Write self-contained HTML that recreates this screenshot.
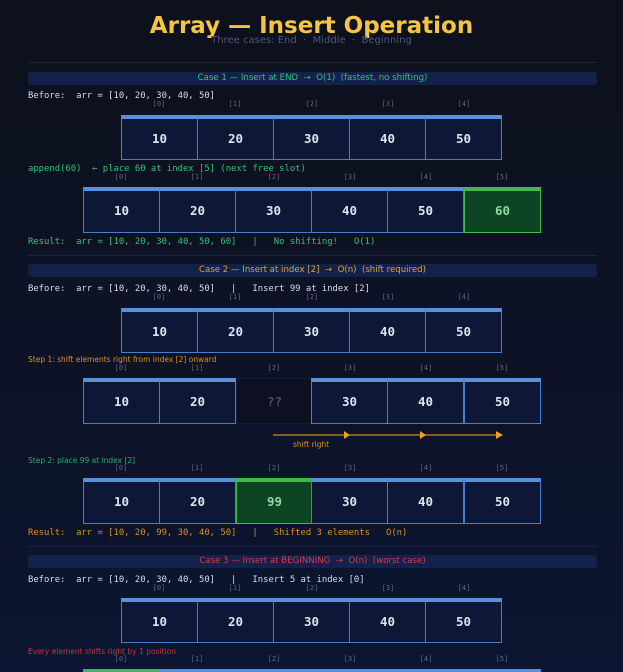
<!DOCTYPE html>
<html style="width:623px;height:672px;overflow:hidden"><head><meta charset="utf-8"><style>
*{margin:0;padding:0;box-sizing:border-box}
body{width:623px;height:672px;overflow:hidden;background:linear-gradient(180deg,#0d111c 0%,#0d1226 50%,#0c1632 100%);position:relative;font-family:"DejaVu Sans","Liberation Sans",sans-serif}
.a{position:absolute;white-space:pre}
.t{left:0;width:623px;text-align:center}
.m{font-family:"DejaVu Sans Mono","Liberation Mono",monospace;font-size:8.9px;line-height:10px}
.s{font-size:7.5px;line-height:9px}
.hr{position:absolute;left:28px;width:569px;height:1px;background:#1a2446}
.bar{position:absolute;left:28px;width:569px;height:13px;background:#13224a;border-radius:3px;font-size:8.6px;line-height:13px;text-align:center;white-space:pre}
.c{position:absolute;width:77px;background:#0e1836;border:1.5px solid #4a7cc8;border-top:4px solid #5b8fd6;color:#dde3ee;font-family:"DejaVu Sans Mono",monospace;font-weight:bold;font-size:12.5px;text-align:center}
.g{background:#0d4424;border-color:#3fb950;color:#8fd8a0}
.e{position:absolute;width:77px;border:1px solid #161c30;background:#0c1020;color:#4a5068;font-family:"DejaVu Sans Mono",monospace;font-weight:bold;font-size:12.5px;text-align:center}
.i{position:absolute;width:40px;text-align:center;font-family:"DejaVu Sans Mono",monospace;font-size:7px;color:#5e6680}
.clip{position:absolute;left:0;top:0;width:623px;height:672px;overflow:hidden}
.bt{position:absolute;width:77px;height:3px;background:#5b8fd6}
</style></head><body><div class="clip">
<div class="a t" style="top:11px;font-size:23px;font-weight:bold;color:#f5c542;line-height:30px">Array — Insert Operation</div>
<div class="a t" style="top:35px;font-size:10px;color:#4f5878;line-height:12px">Three cases: End  ·  Middle  ·  Beginning</div>
<div class="hr" style="top:62px"></div>

<div class="bar" style="top:72px;color:#2ec27a">Case 1 — Insert at END  →  O(1)  (fastest, no shifting)</div>
<div class="a m" style="left:28px;top:91px;color:#d8dce8">Before:  arr = [10, 20, 30, 40, 50]</div>
<div class="i" style="left:139px;top:100px">[0]</div><div class="i" style="left:215px;top:100px">[1]</div><div class="i" style="left:292px;top:100px">[2]</div><div class="i" style="left:368px;top:100px">[3]</div><div class="i" style="left:444px;top:100px">[4]</div>
<div class="c" style="left:121px;top:115px;height:45px;line-height:39px">10</div><div class="c" style="left:197px;top:115px;height:45px;line-height:39px">20</div><div class="c" style="left:273px;top:115px;height:45px;line-height:39px">30</div><div class="c" style="left:349px;top:115px;height:45px;line-height:39px">40</div><div class="c" style="left:425px;top:115px;height:45px;line-height:39px">50</div>
<div class="a m" style="left:28px;top:164px;color:#2ec27a">append(60)  ← place 60 at index [5] (next free slot)</div>
<div class="i" style="left:101px;top:173px">[0]</div><div class="i" style="left:177px;top:173px">[1]</div><div class="i" style="left:254px;top:173px">[2]</div><div class="i" style="left:330px;top:173px">[3]</div><div class="i" style="left:406px;top:173px">[4]</div><div class="i" style="left:482px;top:173px">[5]</div>
<div class="c" style="left:83px;top:187px;height:46px;line-height:40px">10</div><div class="c" style="left:159px;top:187px;height:46px;line-height:40px">20</div><div class="c" style="left:235px;top:187px;height:46px;line-height:40px">30</div><div class="c" style="left:311px;top:187px;height:46px;line-height:40px">40</div><div class="c" style="left:387px;top:187px;height:46px;line-height:40px">50</div><div class="c g" style="left:464px;top:187px;height:46px;line-height:40px;width:77px">60</div>
<div class="a m" style="left:28px;top:237px;color:#2ec27a">Result:  arr = [10, 20, 30, 40, 50, 60]   |   No shifting!   O(1)</div>
<div class="hr" style="top:255px"></div>

<div class="bar" style="top:264px;color:#e6a030">Case 2 — Insert at index [2]  →  O(n)  (shift required)</div>
<div class="a m" style="left:28px;top:284px;color:#d8dce8">Before:  arr = [10, 20, 30, 40, 50]   |   Insert 99 at index [2]</div>
<div class="i" style="left:139px;top:293px">[0]</div><div class="i" style="left:215px;top:293px">[1]</div><div class="i" style="left:292px;top:293px">[2]</div><div class="i" style="left:368px;top:293px">[3]</div><div class="i" style="left:444px;top:293px">[4]</div>
<div class="c" style="left:121px;top:308px;height:45px;line-height:39px">10</div><div class="c" style="left:197px;top:308px;height:45px;line-height:39px">20</div><div class="c" style="left:273px;top:308px;height:45px;line-height:39px">30</div><div class="c" style="left:349px;top:308px;height:45px;line-height:39px">40</div><div class="c" style="left:425px;top:308px;height:45px;line-height:39px">50</div>
<div class="a s" style="left:28px;top:355px;color:#d8901e">Step 1: shift elements right from index [2] onward</div>
<div class="i" style="left:101px;top:364px">[0]</div><div class="i" style="left:177px;top:364px">[1]</div><div class="i" style="left:254px;top:364px">[2]</div><div class="i" style="left:330px;top:364px">[3]</div><div class="i" style="left:406px;top:364px">[4]</div><div class="i" style="left:482px;top:364px">[5]</div>
<div class="c" style="left:83px;top:378px;height:46px;line-height:40px">10</div><div class="c" style="left:159px;top:378px;height:46px;line-height:40px">20</div><div class="e" style="left:236px;top:378px;height:46px;line-height:46px">??</div><div class="c" style="left:311px;top:378px;height:46px;line-height:40px">30</div><div class="c" style="left:387px;top:378px;height:46px;line-height:40px">40</div><div class="c" style="left:464px;top:378px;height:46px;line-height:40px">50</div>
<svg class="a" style="left:0;top:428px" width="623" height="14"><line x1="273" y1="7" x2="500" y2="7" stroke="#c88a26" stroke-width="1.3"/><polygon points="344,3 350,7 344,11" fill="#f0a020"/><polygon points="420,3 426,7 420,11" fill="#f0a020"/><polygon points="496,3 503,7 496,11" fill="#f0a020"/></svg>
<div class="a s" style="left:293px;top:440px;color:#d8901e">shift right</div>
<div class="a s" style="left:28px;top:456px;color:#2ea868">Step 2: place 99 at index [2]</div>
<div class="i" style="left:101px;top:464px">[0]</div><div class="i" style="left:177px;top:464px">[1]</div><div class="i" style="left:254px;top:464px">[2]</div><div class="i" style="left:330px;top:464px">[3]</div><div class="i" style="left:406px;top:464px">[4]</div><div class="i" style="left:482px;top:464px">[5]</div>
<div class="c" style="left:83px;top:478px;height:46px;line-height:40px">10</div><div class="c" style="left:159px;top:478px;height:46px;line-height:40px">20</div><div class="c g" style="left:236px;top:478px;height:46px;line-height:40px">99</div><div class="c" style="left:311px;top:478px;height:46px;line-height:40px">30</div><div class="c" style="left:387px;top:478px;height:46px;line-height:40px">40</div><div class="c" style="left:464px;top:478px;height:46px;line-height:40px">50</div>
<div class="a m" style="left:28px;top:528px;color:#d8901e">Result:  arr = [10, 20, 99, 30, 40, 50]   |   Shifted 3 elements   O(n)</div>
<div class="hr" style="top:546px"></div>

<div class="bar" style="top:555px;color:#d83c48">Case 3 — Insert at BEGINNING  →  O(n)  (worst case)</div>
<div class="a m" style="left:28px;top:575px;color:#d8dce8">Before:  arr = [10, 20, 30, 40, 50]   |   Insert 5 at index [0]</div>
<div class="i" style="left:139px;top:584px">[0]</div><div class="i" style="left:215px;top:584px">[1]</div><div class="i" style="left:292px;top:584px">[2]</div><div class="i" style="left:368px;top:584px">[3]</div><div class="i" style="left:444px;top:584px">[4]</div>
<div class="c" style="left:121px;top:598px;height:45px;line-height:39px">10</div><div class="c" style="left:197px;top:598px;height:45px;line-height:39px">20</div><div class="c" style="left:273px;top:598px;height:45px;line-height:39px">30</div><div class="c" style="left:349px;top:598px;height:45px;line-height:39px">40</div><div class="c" style="left:425px;top:598px;height:45px;line-height:39px">50</div>
<div class="a s" style="left:28px;top:647px;color:#c8303c">Every element shifts right by 1 position</div>
<div class="i" style="left:101px;top:655px">[0]</div><div class="i" style="left:177px;top:655px">[1]</div><div class="i" style="left:254px;top:655px">[2]</div><div class="i" style="left:330px;top:655px">[3]</div><div class="i" style="left:406px;top:655px">[4]</div><div class="i" style="left:482px;top:655px">[5]</div>
<div class="bt" style="left:83px;top:669px;background:#3fb950"></div><div class="bt" style="left:160px;top:669px"></div><div class="bt" style="left:236px;top:669px"></div><div class="bt" style="left:312px;top:669px"></div><div class="bt" style="left:388px;top:669px"></div><div class="bt" style="left:464px;top:669px"></div>
</div></body></html>
